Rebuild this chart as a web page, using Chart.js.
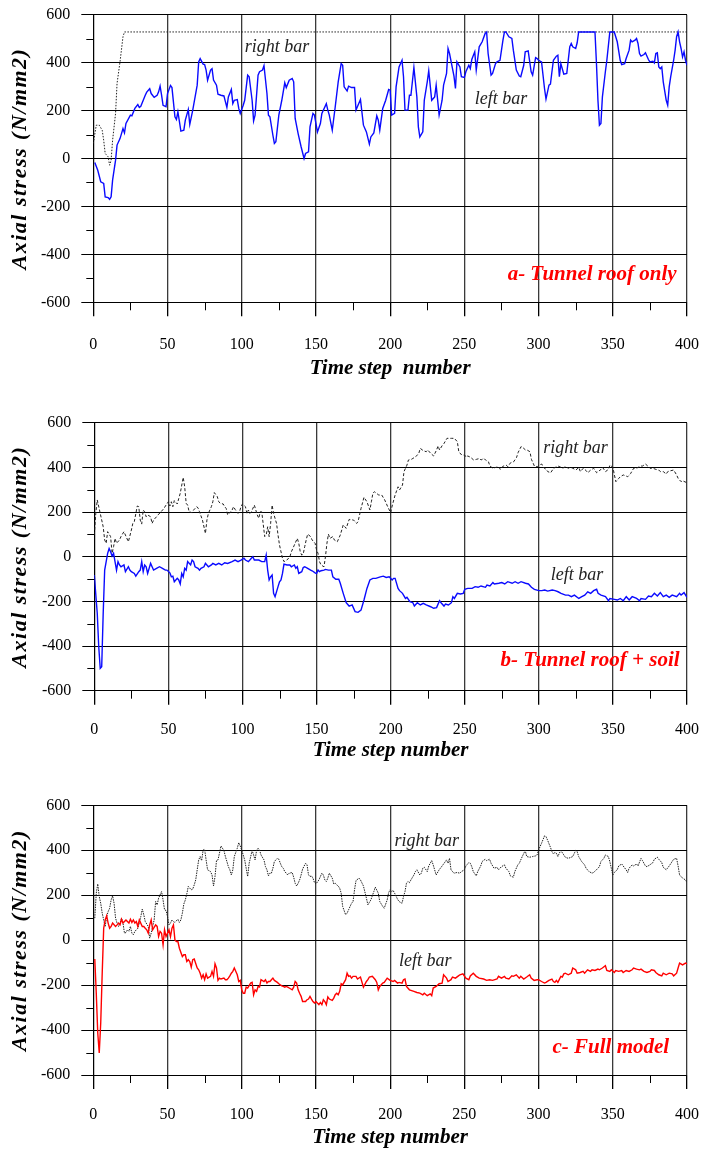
<!DOCTYPE html>
<html>
<head>
<meta charset="utf-8">
<title>Axial stress vs time step</title>
<script src="https://cdn.jsdelivr.net/npm/chart.js@4.4.1/dist/chart.umd.min.js"></script>
<style>
  html, body { margin: 0; padding: 0; background: #fff; }
  .panel { position: absolute; left: 0; width: 701px; }
</style>
</head>
<body>
<div class="panel" style="top:0;height:380px"><canvas id="chartA"></canvas></div>
<div class="panel" style="top:380px;height:382px"><canvas id="chartB"></canvas></div>
<div class="panel" style="top:760px;height:391px"><canvas id="chartC"></canvas></div>
<script>
'use strict';
/* global Chart */

// ── Data: [time step, axial stress N/mm2] ──────────────────────────────────
const roofLeftBar = [[1,-17],[3,-49],[5,-97],[7,-104],[8,-160],[10,-163],[11,-170],[12,-160],[13,-90],[15,-7],[16,56],[18,83],[20,125],[21,107],[22,146],[25,181],[26,178],[28,209],[30,225],[31,213],[32,218],[35,264],[36,277],[38,291],[39,271],[41,255],[43,264],[44,278],[45,302],[46,264],[47,222],[49,216],[50,271],[52,305],[53,296],[55,174],[56,163],[57,195],[59,114],[61,118],[62,160],[64,204],[65,142],[67,202],[70,306],[71,403],[72,417],[74,394],[75,392],[76,369],[77,327],[79,369],[80,375],[81,327],[83,306],[84,268],[86,264],[88,261],[90,213],[91,257],[93,288],[94,229],[95,243],[97,246],[98,209],[99,188],[101,222],[102,243],[104,348],[105,341],[107,243],[108,157],[109,181],[111,348],[112,362],[114,369],[115,387],[117,271],[118,181],[119,174],[121,97],[122,63],[123,70],[125,181],[127,243],[129,316],[130,296],[132,327],[134,334],[135,320],[136,167],[138,104],[140,49],[142,0],[143,21],[145,28],[146,132],[148,188],[149,181],[151,111],[153,146],[154,188],[157,229],[158,202],[159,181],[161,118],[163,216],[165,320],[167,396],[168,389],[169,299],[171,282],[172,302],[174,296],[176,296],[177,202],[180,246],[182,139],[184,111],[186,60],[187,90],[189,107],[191,178],[192,160],[193,118],[195,209],[197,243],[199,288],[200,285],[201,181],[203,188],[204,299],[206,382],[208,410],[209,341],[210,202],[212,202],[213,264],[214,264],[216,380],[218,257],[219,132],[220,90],[222,111],[223,243],[225,320],[226,366],[228,243],[230,257],[231,306],[233,181],[235,243],[236,306],[238,355],[239,459],[240,438],[243,344],[244,292],[245,403],[247,382],[248,341],[250,338],[251,362],[253,389],[254,375],[255,413],[257,445],[258,369],[259,417],[260,466],[262,487],[264,522],[265,528],[266,438],[268,348],[269,355],[271,396],[272,403],[274,410],[276,494],[277,528],[278,528],[280,508],[282,501],[283,452],[285,369],[287,344],[288,341],[290,389],[291,445],[293,449],[295,362],[296,348],[298,421],[299,417],[300,410],[302,403],[304,292],[305,248],[307,306],[308,310],[309,362],[310,410],[312,427],[313,431],[314,341],[315,396],[317,352],[319,355],[321,466],[322,480],[323,466],[325,459],[326,483],[327,528],[338,528],[339,396],[340,243],[341,139],[342,146],[343,257],[345,362],[346,410],[348,528],[351,528],[353,487],[355,410],[356,392],[358,396],[359,417],[361,452],[362,494],[363,487],[365,494],[366,501],[367,480],[368,438],[369,427],[371,434],[372,441],[374,413],[375,403],[377,406],[378,399],[379,438],[380,441],[381,382],[382,375],[383,382],[384,320],[386,243],[387,222],[388,299],[389,341],[391,410],[392,452],[393,508],[394,528],[395,487],[396,459],[397,424],[398,445],[399,410],[400,389]];
const roofRightBar = [[0,63],[2,139],[4,139],[6,118],[7,76],[8,21],[9,14],[10,7],[11,-28],[12,-7],[13,76],[15,188],[16,313],[18,403],[20,508],[21,528],[400,528]];

const soilLeftBar = [[0,-82],[2,-254],[3,-403],[4,-500],[5,-493],[6,-254],[7,-60],[9,15],[10,37],[11,22],[12,3],[13,15],[15,-60],[16,-22],[17,-37],[18,-45],[20,-37],[21,-67],[23,-45],[24,-60],[25,-67],[27,-75],[28,-87],[30,-67],[31,-60],[32,-22],[33,-67],[34,-37],[35,-45],[36,-75],[38,-30],[39,-45],[40,-60],[42,-52],[44,-45],[46,-52],[48,-60],[49,-60],[51,-72],[52,-90],[53,-87],[54,-112],[56,-97],[57,-104],[58,-122],[59,-75],[60,-90],[61,-52],[62,-60],[63,-22],[65,-37],[66,-15],[67,-22],[68,-45],[70,-52],[71,-60],[72,-52],[74,-45],[75,-30],[77,-45],[79,-37],[80,-30],[82,-37],[84,-30],[86,-37],[88,-27],[90,-30],[93,-22],[95,-15],[97,-22],[99,-15],[101,-7],[102,-15],[104,-22],[106,-7],[107,0],[108,-15],[111,-15],[113,-22],[115,-22],[116,7],[117,-60],[118,-104],[119,-90],[120,-82],[121,-164],[122,-179],[124,-134],[125,-112],[126,-104],[127,-75],[128,-33],[130,-37],[132,-37],[133,-45],[135,-37],[136,-52],[137,-45],[138,-75],[140,-67],[141,-48],[142,-45],[144,-52],[146,-60],[147,-63],[149,-72],[150,-75],[151,-60],[152,-67],[153,-63],[155,-60],[156,-57],[158,-60],[160,-60],[161,-90],[163,-101],[165,-101],[166,-119],[168,-164],[170,-206],[172,-221],[174,-216],[176,-246],[178,-249],[180,-239],[182,-194],[184,-142],[186,-104],[188,-97],[190,-97],[193,-90],[195,-87],[197,-93],[199,-90],[201,-104],[202,-97],[203,-97],[205,-142],[206,-152],[208,-164],[210,-187],[211,-182],[213,-201],[215,-206],[216,-221],[218,-206],[220,-216],[222,-209],[224,-216],[227,-224],[229,-231],[231,-228],[233,-197],[234,-206],[236,-221],[237,-212],[239,-216],[241,-206],[242,-179],[243,-187],[245,-164],[247,-167],[249,-164],[250,-146],[252,-142],[255,-142],[257,-134],[259,-137],[261,-131],[264,-137],[265,-127],[267,-131],[269,-116],[270,-122],[273,-119],[275,-116],[277,-122],[279,-112],[282,-119],[284,-112],[286,-119],[288,-112],[291,-119],[293,-122],[295,-137],[297,-146],[300,-152],[302,-152],[304,-149],[306,-154],[309,-149],[311,-152],[313,-157],[315,-164],[318,-172],[320,-172],[322,-179],[324,-172],[327,-187],[329,-179],[331,-172],[333,-157],[335,-164],[337,-152],[339,-146],[340,-164],[342,-172],[345,-179],[347,-197],[348,-187],[351,-191],[353,-194],[355,-187],[357,-197],[359,-179],[361,-194],[363,-179],[366,-187],[368,-197],[369,-187],[372,-191],[374,-176],[376,-179],[378,-164],[380,-176],[382,-161],[384,-179],[386,-172],[388,-182],[390,-172],[393,-179],[395,-164],[396,-172],[398,-161],[400,-182]];
const soilRightBar = [[0,97],[1,194],[2,254],[4,194],[6,134],[7,75],[8,60],[9,112],[11,90],[12,15],[13,45],[14,82],[15,60],[17,75],[18,90],[20,112],[21,97],[23,67],[25,119],[26,149],[27,157],[29,227],[30,224],[31,164],[32,146],[33,209],[34,201],[35,179],[36,187],[38,179],[39,149],[40,164],[42,179],[43,187],[45,201],[47,216],[48,227],[50,246],[51,227],[52,246],[53,224],[54,251],[56,236],[57,261],[58,284],[60,355],[61,313],[62,239],[63,231],[64,201],[66,197],[67,209],[68,216],[69,224],[70,219],[71,201],[73,164],[75,104],[76,164],[77,194],[79,224],[80,246],[81,287],[83,269],[84,246],[85,239],[87,236],[88,224],[89,216],[90,187],[91,194],[93,209],[94,224],[95,212],[97,194],[98,201],[99,224],[100,236],[102,224],[103,194],[104,209],[105,194],[106,201],[108,231],[109,209],[110,187],[111,172],[112,201],[113,201],[115,90],[116,97],[117,134],[118,90],[119,149],[120,231],[121,194],[123,149],[124,97],[125,52],[127,-7],[128,-22],[130,-15],[132,0],[133,22],[135,52],[137,82],[138,60],[139,22],[140,7],[141,12],[142,45],[143,75],[144,101],[146,90],[147,75],[149,60],[150,30],[151,15],[152,-22],[153,-37],[155,-45],[156,0],[157,60],[158,101],[159,82],[161,90],[162,75],[164,67],[166,97],[168,142],[170,127],[172,167],[175,164],[177,149],[178,157],[180,216],[182,266],[184,246],[186,209],[187,246],[188,284],[189,291],[192,276],[194,276],[196,254],[198,224],[200,197],[201,227],[203,276],[205,313],[206,299],[208,321],[209,381],[211,410],[212,433],[214,436],[215,440],[217,448],[219,463],[220,485],[222,475],[224,470],[225,478],[227,463],[229,451],[231,478],[232,496],[233,478],[235,500],[236,507],[238,530],[241,530],[243,530],[245,515],[246,470],[248,455],[250,455],[251,445],[252,451],[254,445],[256,433],[258,436],[260,440],[261,433],[263,440],[264,433],[266,425],[267,406],[269,396],[271,400],[273,403],[274,391],[276,406],[278,410],[279,403],[281,421],[283,425],[285,445],[286,466],[288,493],[289,490],[291,478],[292,478],[294,470],[295,436],[297,406],[299,403],[300,410],[302,415],[303,400],[305,391],[306,381],[308,376],[310,396],[312,403],[313,406],[315,400],[316,396],[318,403],[320,396],[321,400],[323,396],[325,388],[327,400],[328,381],[330,396],[332,385],[333,376],[335,388],[337,396],[339,376],[340,381],[342,391],[343,400],[345,381],[347,391],[348,410],[350,400],[351,366],[352,336],[354,351],[355,358],[357,366],[359,361],[360,358],[362,373],[364,396],[366,396],[367,400],[369,406],[370,406],[372,415],[374,403],[375,396],[377,396],[379,391],[381,388],[382,381],[384,381],[386,370],[387,381],[389,385],[391,388],[393,366],[394,351],[396,336],[397,340],[400,331]];

const fullLeftBar = [[1,-84],[2,-236],[3,-413],[4,-502],[5,-369],[6,-147],[7,53],[8,90],[9,108],[10,76],[11,53],[12,61],[13,76],[15,61],[16,68],[17,76],[18,68],[19,93],[20,76],[21,83],[22,90],[24,76],[25,93],[26,79],[27,90],[28,76],[29,83],[30,61],[31,90],[33,61],[34,61],[35,53],[36,46],[37,31],[38,68],[39,90],[40,46],[42,68],[43,61],[44,16],[45,39],[46,31],[47,-21],[48,46],[49,16],[51,46],[52,16],[53,53],[54,68],[55,1],[56,-6],[57,-6],[58,-36],[60,-73],[61,-65],[62,-65],[63,-95],[64,-87],[65,-95],[66,-120],[67,-87],[68,-84],[70,-124],[71,-132],[72,-147],[73,-169],[74,-154],[75,-176],[76,-150],[77,-169],[79,-161],[80,-139],[81,-161],[82,-105],[83,-124],[84,-179],[85,-169],[86,-173],[88,-169],[89,-176],[90,-176],[91,-169],[92,-159],[93,-147],[94,-139],[95,-124],[97,-154],[98,-184],[99,-179],[100,-221],[101,-236],[102,-236],[103,-209],[104,-213],[106,-191],[107,-188],[108,-243],[109,-221],[110,-228],[111,-206],[112,-209],[113,-176],[115,-184],[116,-176],[117,-191],[118,-184],[119,-184],[120,-176],[121,-169],[122,-179],[124,-188],[125,-194],[126,-199],[127,-203],[128,-206],[129,-209],[130,-206],[131,-209],[132,-213],[134,-221],[135,-209],[136,-184],[137,-191],[138,-221],[139,-236],[140,-250],[141,-273],[143,-273],[144,-265],[145,-262],[146,-250],[147,-262],[148,-273],[149,-280],[150,-273],[152,-287],[153,-277],[154,-287],[155,-265],[156,-273],[157,-287],[158,-253],[159,-262],[161,-268],[162,-258],[163,-243],[164,-236],[165,-243],[166,-228],[167,-194],[168,-199],[170,-176],[171,-147],[172,-161],[173,-159],[174,-169],[175,-161],[177,-161],[178,-173],[180,-164],[182,-209],[184,-184],[185,-176],[186,-164],[188,-161],[190,-176],[191,-188],[192,-221],[193,-206],[195,-191],[196,-188],[198,-169],[200,-179],[202,-184],[203,-179],[205,-191],[206,-188],[208,-191],[209,-176],[210,-173],[211,-206],[213,-221],[216,-228],[218,-233],[220,-236],[222,-243],[223,-236],[225,-247],[227,-239],[228,-247],[229,-213],[231,-206],[233,-194],[235,-191],[236,-154],[238,-169],[239,-184],[241,-176],[242,-164],[244,-169],[246,-159],[247,-154],[249,-150],[251,-169],[253,-176],[254,-159],[256,-147],[258,-161],[260,-169],[263,-173],[265,-179],[267,-176],[269,-179],[272,-173],[273,-161],[275,-169],[277,-161],[278,-169],[280,-173],[282,-159],[283,-161],[285,-154],[287,-169],[288,-161],[290,-173],[292,-164],[294,-154],[295,-169],[297,-179],[299,-176],[300,-176],[302,-184],[304,-191],[305,-188],[307,-179],[309,-173],[310,-184],[311,-188],[312,-179],[313,-188],[315,-161],[316,-164],[317,-150],[318,-147],[320,-154],[322,-147],[323,-124],[325,-132],[326,-147],[328,-144],[330,-139],[331,-147],[333,-132],[335,-139],[336,-132],[338,-135],[340,-129],[341,-132],[343,-124],[345,-114],[346,-135],[348,-139],[349,-132],[351,-144],[352,-135],[354,-139],[356,-135],[357,-144],[359,-135],[361,-139],[363,-132],[364,-124],[366,-129],[368,-132],[369,-129],[371,-139],[373,-144],[375,-139],[376,-132],[378,-135],[379,-144],[381,-154],[383,-159],[384,-147],[386,-154],[388,-147],[390,-150],[391,-159],[393,-147],[394,-124],[395,-102],[397,-110],[399,-102],[400,-105]];
const fullRightBar = [[1,98],[2,209],[3,250],[4,194],[5,164],[6,120],[7,90],[8,61],[9,105],[10,127],[11,142],[12,179],[13,197],[14,164],[15,98],[16,76],[17,61],[18,76],[19,98],[20,76],[21,31],[22,34],[23,46],[24,39],[25,61],[26,31],[27,24],[28,39],[30,53],[31,76],[32,105],[33,138],[34,113],[35,83],[37,61],[38,9],[39,31],[40,61],[41,90],[42,172],[43,157],[44,187],[46,216],[47,179],[48,135],[49,132],[50,105],[51,68],[52,76],[53,90],[54,83],[55,79],[57,93],[58,79],[59,90],[60,120],[61,161],[62,179],[63,206],[64,239],[66,224],[67,227],[68,246],[69,268],[70,313],[71,357],[72,372],[73,354],[74,401],[75,404],[76,357],[77,313],[79,305],[80,290],[81,241],[82,283],[83,354],[84,357],[85,387],[86,419],[88,399],[89,372],[90,350],[91,327],[92,313],[93,290],[94,313],[95,372],[97,409],[98,434],[99,419],[100,401],[101,379],[102,357],[103,320],[104,283],[105,342],[107,399],[108,379],[109,357],[110,399],[111,409],[112,401],[113,379],[115,357],[116,327],[117,313],[118,286],[119,298],[120,298],[121,320],[122,350],[124,364],[125,360],[126,342],[127,327],[128,320],[129,305],[130,298],[131,290],[132,298],[134,301],[135,280],[136,253],[137,241],[138,253],[139,268],[140,290],[141,316],[143,342],[144,335],[145,290],[146,283],[147,286],[148,276],[149,256],[150,250],[152,268],[153,283],[154,298],[155,290],[156,268],[157,261],[158,276],[159,298],[161,276],[162,250],[163,253],[164,246],[165,241],[166,231],[167,209],[168,150],[170,113],[171,120],[172,135],[173,150],[174,164],[175,172],[176,224],[177,265],[179,276],[180,268],[182,241],[184,187],[185,157],[187,179],[189,216],[190,236],[192,209],[193,172],[195,150],[196,142],[198,179],[199,212],[200,224],[201,216],[202,221],[203,209],[205,182],[206,172],[208,164],[209,194],[210,216],[211,253],[212,261],[213,256],[214,268],[216,290],[217,305],[218,313],[220,290],[221,298],[222,320],[223,324],[225,305],[226,330],[228,354],[229,335],[231,290],[233,313],[235,330],[236,339],[238,357],[239,342],[240,364],[241,313],[243,298],[245,301],[247,298],[248,305],[250,313],[251,330],[253,345],[254,342],[255,327],[256,305],[258,286],[259,305],[261,330],[262,350],[264,360],[265,354],[267,360],[268,342],[270,320],[272,324],[273,313],[275,327],[277,335],[278,320],[280,305],[281,286],[283,280],[284,305],[286,335],[287,342],[289,372],[291,399],[292,372],[294,369],[296,372],[298,375],[299,379],[300,401],[302,431],[304,464],[305,461],[306,446],[308,413],[309,394],[310,384],[311,390],[312,387],[313,372],[314,387],[315,399],[317,379],[318,369],[320,364],[322,369],[323,372],[325,399],[326,394],[327,372],[329,350],[331,335],[332,320],[334,305],[336,298],[337,301],[339,313],[341,327],[342,350],[344,364],[345,379],[347,372],[348,350],[349,320],[350,290],[351,301],[353,313],[354,330],[356,339],[357,330],[359,313],[360,301],[361,320],[363,335],[364,330],[366,339],[367,330],[369,364],[370,354],[372,330],[373,327],[375,335],[377,345],[378,360],[380,369],[381,360],[383,345],[384,324],[386,313],[388,330],[390,350],[391,360],[393,364],[394,330],[395,290],[396,283],[397,276],[399,268],[400,256]];

// Axis ranges and tick steps
const stepRange   = [0, 400];
const stressRange = [-600, 600];
const stepTick    = 25;   // labelled every 50
const stressTick  = 100;  // labelled every 200

const SERIF = '"Liberation Serif", "Times New Roman", serif';

// ── Plugins ────────────────────────────────────────────────────
// short minor tick marks outside the plot frame
const minorTicks = {
  id: 'minorTicks',
  afterDraw(chart) {
    const { ctx, chartArea: a, scales: { x, y } } = chart;
    ctx.save();
    ctx.strokeStyle = '#000';
    ctx.lineWidth = 1;
    ctx.beginPath();
    y.ticks.forEach(t => {
      if (t.value % 200 === 0) return;
      const py = Math.round(y.getPixelForValue(t.value)) + 0.5;
      ctx.moveTo(a.left - 7, py); ctx.lineTo(a.left, py);
    });
    x.ticks.forEach(t => {
      if (t.value % 50 === 0) return;
      const px = Math.round(x.getPixelForValue(t.value)) + 0.5;
      ctx.moveTo(px, a.bottom); ctx.lineTo(px, a.bottom + 8);
    });
    ctx.stroke();
    ctx.restore();
  }
};

// spaced vertical axis title
const yTitle = {
  id: 'yTitle',
  afterDraw(chart, args, opts) {
    const { ctx, chartArea: a } = chart;
    ctx.save();
    ctx.translate(opts.x, (a.top + a.bottom) / 2);
    ctx.rotate(-Math.PI / 2);
    ctx.font = 'bold italic 22px ' + SERIF;
    ctx.letterSpacing = '1.5px';
    ctx.fillStyle = '#000';
    ctx.textAlign = 'center';
    ctx.textBaseline = 'middle';
    ctx.fillText(opts.text, 0, 0);
    ctx.restore();
  }
};

// in-plot labels, placed in data units
const notes = {
  id: 'notes',
  afterDatasetsDraw(chart, args, opts) {
    const { ctx, scales: { x, y } } = chart;
    (opts.items || []).forEach(n => {
      ctx.save();
      ctx.font = n.font;
      ctx.fillStyle = n.color;
      ctx.textAlign = n.align;
      ctx.textBaseline = 'middle';
      ctx.fillText(n.text, x.getPixelForValue(n.step), y.getPixelForValue(n.stress));
      ctx.restore();
    });
  }
};

const barFont   = 'italic 18px ' + SERIF;
const caseFont  = 'bold italic 21px ' + SERIF;
const noteColor = '#222';

function toPoints(arr) { return arr.map(p => ({ x: p[0], y: p[1] })); }

function makePanel(id, cfg) {
  const canvas = document.getElementById(id);
  return new Chart(canvas.getContext('2d'), {
    type: 'line',
    data: {
      datasets: [
        {
          label: 'left bar',
          data: toPoints(cfg.left),
          borderColor: cfg.leftColor,
          borderWidth: 1.4,
          pointRadius: 0,
          tension: 0,
          fill: false,
        },
        {
          label: 'right bar',
          data: toPoints(cfg.right),
          borderColor: '#222',
          borderWidth: 1,
          borderDash: cfg.rightDash,
          pointRadius: 0,
          tension: 0,
          fill: false,
        }
      ]
    },
    options: {
      responsive: true,
      maintainAspectRatio: false,
      animation: false,
      layout: { padding: { left: 0, right: 14, top: cfg.top, bottom: 0 } },
      scales: {
        x: {
          type: 'linear',
          min: stepRange[0],
          max: stepRange[1],
          afterFit: s => { s.height = cfg.xHeight; s.paddingLeft = 0; s.paddingRight = 0; },
          ticks: {
            stepSize: stepTick,
            autoSkip: false,
            maxRotation: 0,
            padding: cfg.xTickPad,
            color: '#000',
            font: { family: SERIF, size: 16 },
            callback: v => (v % 50 === 0 ? v : ''),
          },
          grid: {
            color: c => (c.tick && c.tick.value % 50 === 0 ? '#3a3a3a' : 'rgba(0,0,0,0)'),
            tickColor: c => (c.tick && c.tick.value % 50 === 0 ? '#000' : 'rgba(0,0,0,0)'),
            lineWidth: 1.3,
            tickLength: 14,
          },
          border: { display: true, color: '#000', width: 1 },
          title: {
            display: true,
            text: cfg.xTitle,
            color: '#000',
            font: { family: SERIF, size: 21, weight: 'bold', style: 'italic' },
            padding: { top: 0, bottom: cfg.titlePad },
          },
        },
        y: {
          type: 'linear',
          min: stressRange[0],
          max: stressRange[1],
          afterFit: s => { s.width = cfg.yWidth; s.paddingTop = 0; s.paddingBottom = 0; },
          ticks: {
            stepSize: stressTick,
            padding: 11,
            color: '#000',
            font: { family: SERIF, size: 16 },
            callback: v => (v % 200 === 0 ? v : ''),
          },
          grid: {
            color: c => (c.tick && c.tick.value % 200 === 0 ? '#000' : 'rgba(0,0,0,0)'),
            tickColor: c => (c.tick && c.tick.value % 200 === 0 ? '#000' : 'rgba(0,0,0,0)'),
            lineWidth: 1,
            tickLength: 12,
          },
          border: { display: true, color: '#000', width: 1 },
        }
      },
      plugins: {
        legend: { display: false },
        tooltip: { enabled: false },
        yTitle: { text: 'Axial stress (N/mm2)', x: 20 },
        notes: { items: cfg.notes },
      }
    },
    plugins: [minorTicks, yTitle, notes]
  });
}

// ── Three panels ───────────────────────────────────────────────
makePanel('chartA', {
  left: roofLeftBar, right: roofRightBar,
  leftColor: '#0a0aff', rightDash: [1.5, 1.5],
  top: 14.7, xHeight: 77.7, yWidth: 93.3, xTickPad: 19, titlePad: -1,
  xTitle: 'Time step  number',
  notes: [
    { text: 'right bar', step: 102, stress: 465, align: 'left', font: barFont, color: noteColor },
    { text: 'left bar', step: 257, stress: 247, align: 'left', font: barFont, color: noteColor },
    { text: 'a- Tunnel roof only', step: 393, stress: -483, align: 'right', font: caseFont, color: '#ff0000' },
  ]
});

makePanel('chartB', {
  left: soilLeftBar, right: soilRightBar,
  leftColor: '#0a0aff', rightDash: [3, 2],
  top: 42.7, xHeight: 71.3, yWidth: 94.3, xTickPad: 15, titlePad: -1,
  xTitle: 'Time step number',
  notes: [
    { text: 'right bar', step: 303, stress: 485, align: 'left', font: barFont, color: noteColor },
    { text: 'left bar', step: 308, stress: -82, align: 'left', font: barFont, color: noteColor },
    { text: 'b- Tunnel roof + soil', step: 395, stress: -467, align: 'right', font: caseFont, color: '#ff0000' },
  ]
});

makePanel('chartC', {
  left: fullLeftBar, right: fullRightBar,
  leftColor: '#ff0000', rightDash: [1.5, 1],
  top: 45.3, xHeight: 76, yWidth: 93.3, xTickPad: 16, titlePad: 1,
  xTitle: 'Time step number',
  notes: [
    { text: 'right bar', step: 203, stress: 442, align: 'left', font: barFont, color: noteColor },
    { text: 'left bar', step: 206, stress: -92, align: 'left', font: barFont, color: noteColor },
    { text: 'c- Full model', step: 388, stress: -480, align: 'right', font: caseFont, color: '#ff0000' },
  ]
});
</script>
</body>
</html>
